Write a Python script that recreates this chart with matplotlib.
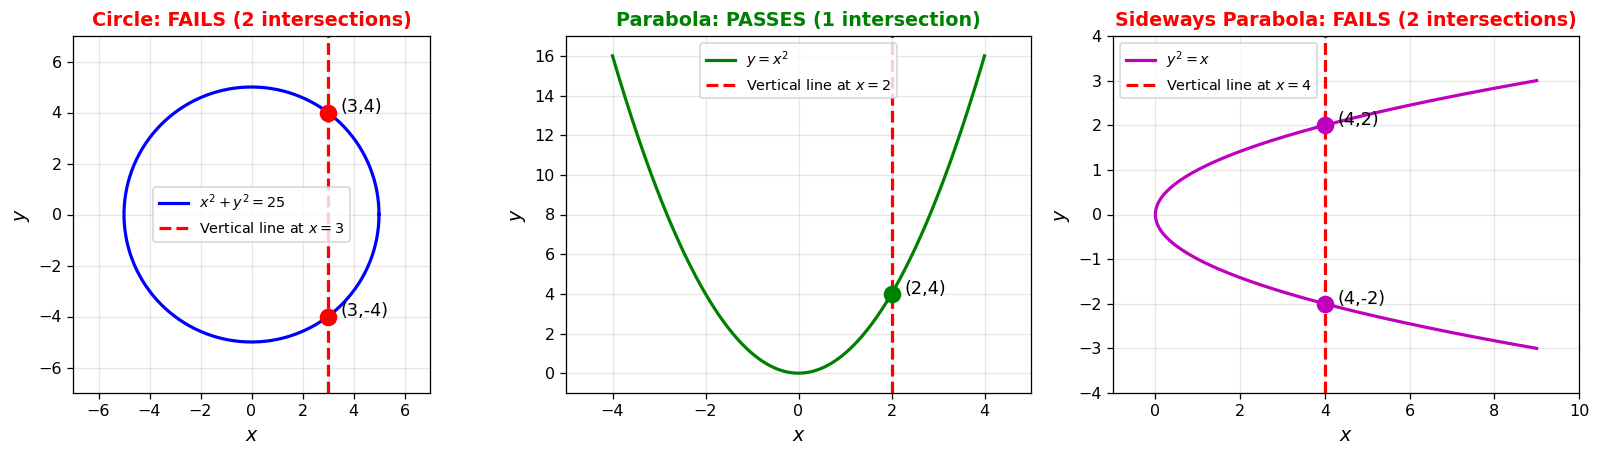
import numpy as np
import matplotlib
matplotlib.use('Agg')
import matplotlib.pyplot as plt

# panel data
titles = ['Circle: FAILS (2 intersections)',
          'Parabola: PASSES (1 intersection)',
          'Sideways Parabola: FAILS (2 intersections)']
title_colors = ['red', 'green', 'red']
vline_x = [3, 2, 4]
circle_pts = [(3, 4), (3, -4)]
parabola_pts = [(2, 4)]
sideways_pts = [(4, 2), (4, -2)]
circle_r = 5
parabola_range = (-4, 4)
sideways_range = (-3, 3)

fig = plt.figure(figsize=(1600 / 115, 458 / 115), dpi=115)
b = (458 - 393) / 458
h = 357 / 458
ax1 = fig.add_axes([73 / 1600, b, 357 / 1600, h])
ax2 = fig.add_axes([566 / 1600, b, 465 / 1600, h])
ax3 = fig.add_axes([1113 / 1600, b, 466 / 1600, h])


def mark(ax, pts, color):
    for px, py in pts:
        ax.plot(px, py, 'o', color=color, markersize=10, zorder=5)
        ax.annotate('({},{})'.format(px, py), (px, py), xytext=(8, 0),
                    textcoords='offset points', fontsize=11)


# Circle
t = np.linspace(0, 2 * np.pi, 400)
ax1.plot(circle_r * np.cos(t), circle_r * np.sin(t), 'b-', linewidth=2,
         label=r'$x^2 + y^2 = 25$')
ax1.axvline(vline_x[0], color='r', linestyle='--', linewidth=2,
            label=r'Vertical line at $x = 3$')
mark(ax1, circle_pts, 'red')
ax1.set_xlim(-7, 7)
ax1.set_ylim(-7, 7)
ax1.set_aspect('equal')
ax1.legend(loc='center', fontsize=9)

# Parabola
x = np.linspace(*parabola_range, 400)
ax2.plot(x, x ** 2, 'g-', linewidth=2, label=r'$y = x^2$')
ax2.axvline(vline_x[1], color='r', linestyle='--', linewidth=2,
            label=r'Vertical line at $x = 2$')
mark(ax2, parabola_pts, 'green')
ax2.set_xlim(-5, 5)
ax2.set_ylim(-1, 17)
ax2.legend(loc='upper center', fontsize=9)

# Sideways parabola
y = np.linspace(*sideways_range, 400)
ax3.plot(y ** 2, y, 'm-', linewidth=2, label=r'$y^2 = x$')
ax3.axvline(vline_x[2], color='r', linestyle='--', linewidth=2,
            label=r'Vertical line at $x = 4$')
mark(ax3, sideways_pts, 'm')
ax3.set_xlim(-1, 10)
ax3.set_ylim(-4, 4)
ax3.legend(loc='upper left', fontsize=9)

for ax, title, c in zip([ax1, ax2, ax3], titles, title_colors):
    ax.set_title(title, color=c, fontweight='bold', fontsize=12)
    ax.set_xlabel('$x$', fontsize=12)
    ax.set_ylabel('$y$', fontsize=12)
    ax.grid(True, alpha=0.3)

plt.savefig('out.png', dpi=115)
